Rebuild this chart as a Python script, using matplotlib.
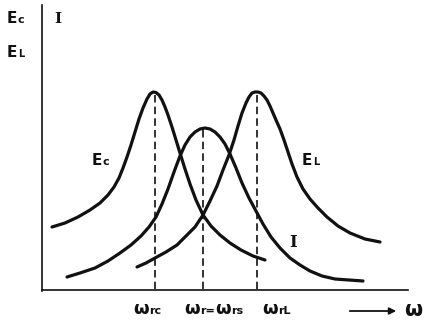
import matplotlib.pyplot as plt
from matplotlib.patches import FancyArrowPatch

# Curvas de ressonância (coordenadas do desenho, y cresce para baixo)
ec_x = [52, 65, 78, 90, 100, 108, 114, 119, 123, 127, 131, 135, 139, 143, 147, 150, 153,
        156, 159, 162, 165, 168, 172, 176, 180, 185, 190, 196, 203, 211, 220, 230, 241, 253, 265]
ec_y = [227, 223, 217, 210, 203, 195, 187, 178, 168, 157, 145, 132, 119, 108, 99, 94, 92,
        92.5, 95, 100, 107, 115, 127, 140, 153, 169, 184, 200, 215, 226, 235, 243, 250, 256, 260]

i_x = [67, 80, 95, 108, 120, 131, 141, 149, 156, 162, 168, 174, 180, 185, 190, 195, 200, 205,
       210, 215, 220, 225, 230, 236, 242, 249, 256, 263, 271, 280, 290, 300, 310, 322, 335, 349, 363]
i_y = [277, 273, 268, 261, 253, 245, 236, 227, 217, 204, 189, 172, 156, 145, 137, 132, 129, 128,
       129, 132, 137, 144, 154, 168, 183, 198, 211, 224, 237, 248, 258, 265, 271, 276, 279, 280, 281]

el_x = [137, 146, 155, 166, 177, 186, 195, 203, 210, 217, 223, 229, 234, 238, 242, 246, 249, 252,
        255, 258, 261, 264, 267, 270, 273, 276, 280, 284, 288, 292, 297, 303, 310, 318, 327, 338,
        350, 365, 380]
el_y = [267, 263, 258, 252, 245, 236, 227, 215, 201, 186, 170, 155, 140, 126, 113, 103, 97, 93,
        92, 92, 93, 96, 100, 106, 113, 120, 129, 140, 152, 164, 177, 189, 199, 208, 217, 226,
        233, 239, 242]

# Frequências de ressonância (linhas tracejadas) e picos
omega_x = [155, 203, 257]
omega_top = [95, 130, 95]

LW = 2.3
INK = '#111111'

fig = plt.figure(figsize=(4.31, 3.20), dpi=100)
ax = fig.add_axes([0, 0, 1, 1])
ax.set_xlim(0, 431)
ax.set_ylim(320, 0)
ax.axis('off')

# Eixos
ax.plot([42, 42], [5, 291], color=INK, lw=1.2)
ax.plot([42, 408], [290, 290], color=INK, lw=1.2)

# Curvas
for xs, ys in [(ec_x, ec_y), (i_x, i_y), (el_x, el_y)]:
    ax.plot(xs, ys, color=INK, lw=LW, solid_capstyle='round', solid_joinstyle='round')

# Linhas tracejadas até o eixo
for x, top in zip(omega_x, omega_top):
    ax.plot([x, x], [top, 290], color=INK, lw=1.2, dashes=(4.5, 2.5))

fs = dict(color=INK, fontweight='bold', family='DejaVu Sans')


def fim_x(t):
    fig.canvas.draw()
    bb = t.get_window_extent()
    return ax.transData.inverted().transform((bb.x1, bb.y0))[0]


def rotulo(x, y, grande, pequeno, tam=11, tam_p=8):
    t = ax.text(x, y, grande, fontsize=tam, va='baseline', ha='left', **fs)
    t2 = ax.text(fim_x(t) + 0.5, y, pequeno, fontsize=tam_p, va='baseline', ha='left', **fs)
    return fim_x(t2)


# Rótulos do eixo vertical
rotulo(7, 23, 'E', 'c')
rotulo(7, 57, 'E', 'L', tam_p=7)
ax.text(54, 23, 'I', fontsize=11, va='baseline', ha='left', family='DejaVu Serif',
        fontweight='bold', color=INK)

# Rótulos das curvas
rotulo(92, 165, 'E', 'c')
rotulo(302, 165, 'E', 'L', tam_p=7)
ax.text(289, 247, 'I', fontsize=12, va='baseline', ha='left', family='DejaVu Serif',
        fontweight='bold', color=INK)

# Rótulos das frequências
rotulo(133, 314, 'ω', 'rc', tam=13, tam_p=8)
xr = rotulo(184, 314, 'ω', 'r=', tam=13, tam_p=8)
rotulo(xr + 0.5, 314, 'ω', 'rs', tam=13, tam_p=8)
rotulo(262, 314, 'ω', 'rL', tam=13, tam_p=8)

# Seta do eixo ω
ax.add_patch(FancyArrowPatch((347, 311), (399, 311), arrowstyle='-|>', mutation_scale=10,
                             color=INK, lw=1.3))
ax.text(404, 316, 'ω', fontsize=15, va='baseline', ha='left', **fs)

fig.savefig('out.png', dpi=100)
